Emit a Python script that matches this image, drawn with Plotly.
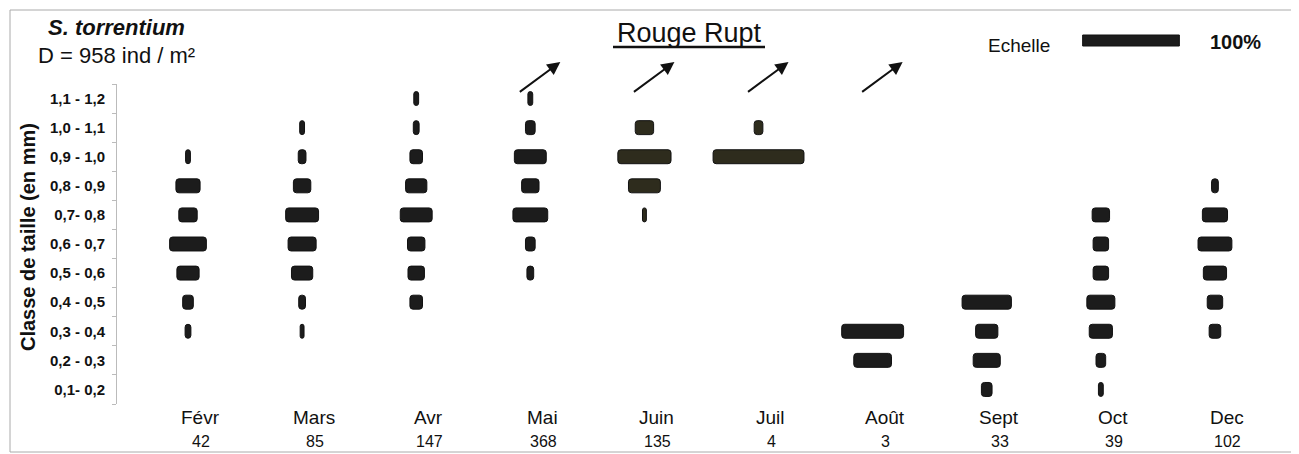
import plotly.graph_objects as go

# size classes (bottom -> top) and monthly distribution in %
classes = ["0,1- 0,2", "0,2 - 0,3", "0,3 - 0,4", "0,4 - 0,5", "0,5 - 0,6", "0,6 - 0,7",
           "0,7- 0,8", "0,8 - 0,9", "0,9 - 1,0", "1,0 - 1,1", "1,1 - 1,2"]
months = ["Févr", "Mars", "Avr", "Mai", "Juin", "Juil", "Août", "Sept", "Oct", "Dec"]
counts = [42, 85, 147, 368, 135, 4, 3, 33, 39, 102]

fevr = [0, 0, 6, 11, 23, 38, 19, 25, 5, 0, 0]
mars = [0, 0, 4, 7, 22, 29, 34, 18, 8, 5, 0]
avr = [0, 0, 0, 13, 17, 18, 33, 22, 13, 6, 5]
mai = [0, 0, 0, 0, 7, 10, 36, 18, 33, 10, 5]
juin = [0, 0, 0, 0, 0, 0, 4, 33, 55, 19, 0]
juil = [0, 0, 0, 0, 0, 0, 0, 0, 94, 9, 0]
aout = [0, 39, 64, 0, 0, 0, 0, 0, 0, 0, 0]
sept = [11, 28, 23, 51, 0, 0, 0, 0, 0, 0, 0]
octo = [5, 10, 24, 29, 16, 16, 18, 0, 0, 0, 0]
dec = [0, 0, 12, 16, 24, 35, 26, 7, 0, 0, 0]
series = [fevr, mars, avr, mai, juin, juil, aout, sept, octo, dec]

arrow_months = ["Mai", "Juin", "Juil", "Août"]
olive_months = ["Juin", "Juil"]

# geometry: page pixels, the html body adds an 8px margin
OFF = 8
W, H = 1299 - OFF, 454 - OFF
L, T = 117 - OFF, 84 - OFF
R = W - (1294 - OFF)
B = H - (404 - OFF)
PX_PER_PCT = 0.967          # 100 % = ~97 px (Echelle)
SPACING = 118               # distance between months in % units
FIRST_PX = 188              # page pixel of first month centre

def px_x(p):
    return (p - OFF - L) / (W - L - R)

def px_y(p):
    return (H - B - (p - OFF)) / (H - T - B)

x0 = -(FIRST_PX - 117) / PX_PER_PCT
x1 = (1294 - FIRST_PX) / PX_PER_PCT
centers = [i * SPACING for i in range(len(months))]

fig = go.Figure()
for m, c, vals in zip(months, centers, series):
    ys = [cl for cl, v in zip(classes, vals) if v > 0]
    xs = [v for v in vals if v > 0]
    fill = "#2e2c1d" if m in olive_months else "#1c1c1c"
    fig.add_trace(go.Bar(
        y=ys, x=xs, base=[c - v / 2 for v in xs], orientation="h",
        width=0.48, marker=dict(color=fill, line=dict(color="#111", width=1)),
        name=m, showlegend=False,
    ))

ann = []
for m, c, n in zip(months, centers, counts):
    ann.append(dict(x=c, y=px_y(417), xref="x", yref="paper", text=m, showarrow=False,
                    xshift=12, xanchor="center", yanchor="middle", font=dict(size=19, color="#111")))
    ann.append(dict(x=c, y=px_y(441), xref="x", yref="paper", text=str(n), showarrow=False,
                    xshift=13, xanchor="center", yanchor="middle", font=dict(size=16, color="#111")))

for m in arrow_months:
    c = centers[months.index(m)]
    ann.append(dict(x=c + 30 / PX_PER_PCT, y=px_y(62), xref="x", yref="paper", text="",
                    showarrow=True, ax=-42, ay=31, arrowhead=2, arrowsize=1.3,
                    arrowwidth=2, arrowcolor="#111"))

ann += [
    dict(x=px_x(46), y=px_y(28), xref="paper", yref="paper", xanchor="left", yanchor="middle",
         text="<b><i>S. torrentium</i></b>", showarrow=False, font=dict(size=22, color="#111")),
    dict(x=px_x(36), y=px_y(55), xref="paper", yref="paper", xanchor="left", yanchor="middle",
         text="D = 958 ind / m²", showarrow=False, font=dict(size=22, color="#111")),
    dict(x=px_x(689), y=px_y(33), xref="paper", yref="paper", xanchor="center", yanchor="middle",
         text="Rouge Rupt", showarrow=False, font=dict(size=27, color="#111")),
    dict(x=px_x(1019), y=px_y(45), xref="paper", yref="paper", xanchor="center", yanchor="middle",
         text="Echelle", showarrow=False, font=dict(size=19, color="#111")),
    dict(x=px_x(1235), y=px_y(42), xref="paper", yref="paper", xanchor="center", yanchor="middle",
         text="<b>100%</b>", showarrow=False, font=dict(size=20, color="#111")),
    dict(x=px_x(28), y=px_y(237), xref="paper", yref="paper", textangle=-90,
         xanchor="center", yanchor="middle",
         text="<b>Classe de taille (en mm)</b>", showarrow=False, font=dict(size=20, color="#111")),
]

scale_c = (1131 - FIRST_PX) / PX_PER_PCT
shapes = [
    dict(type="rect", xref="paper", yref="paper", x0=px_x(10), x1=px_x(1294),
         y0=px_y(452), y1=px_y(10), line=dict(color="#aaaaaa", width=1), layer="below"),
    dict(type="line", xref="paper", yref="paper", x0=px_x(613), x1=px_x(765),
         y0=px_y(47), y1=px_y(47), line=dict(color="#111", width=2.5)),
    dict(type="rect", xref="x", yref="paper", x0=scale_c - 50, x1=scale_c + 50,
         y0=px_y(46), y1=px_y(35), fillcolor="#1c1c1c", line=dict(color="#111", width=1)),
]

fig.update_layout(
    width=W, height=H, margin=dict(l=L, r=R, t=T, b=B),
    paper_bgcolor="white", plot_bgcolor="white",
    barmode="overlay", barcornerradius=3,
    font=dict(family="Liberation Sans, Arial, sans-serif", color="#111"),
    xaxis=dict(range=[x0, x1], showticklabels=False, showgrid=False, zeroline=False,
               showline=False, ticks=""),
    yaxis=dict(type="category", categoryorder="array", categoryarray=classes,
               range=[-0.5, len(classes) - 0.5], showgrid=False, zeroline=False,
               showline=True, linecolor="#bbbbbb", linewidth=1,
               ticks="outside", ticklen=4, tickcolor="#bbbbbb", tickson="boundaries",
               ticklabelstandoff=8,
               tickfont=dict(size=15, weight="bold", color="#111")),
    annotations=ann, shapes=shapes,
)

fig.write_html("out.html")
